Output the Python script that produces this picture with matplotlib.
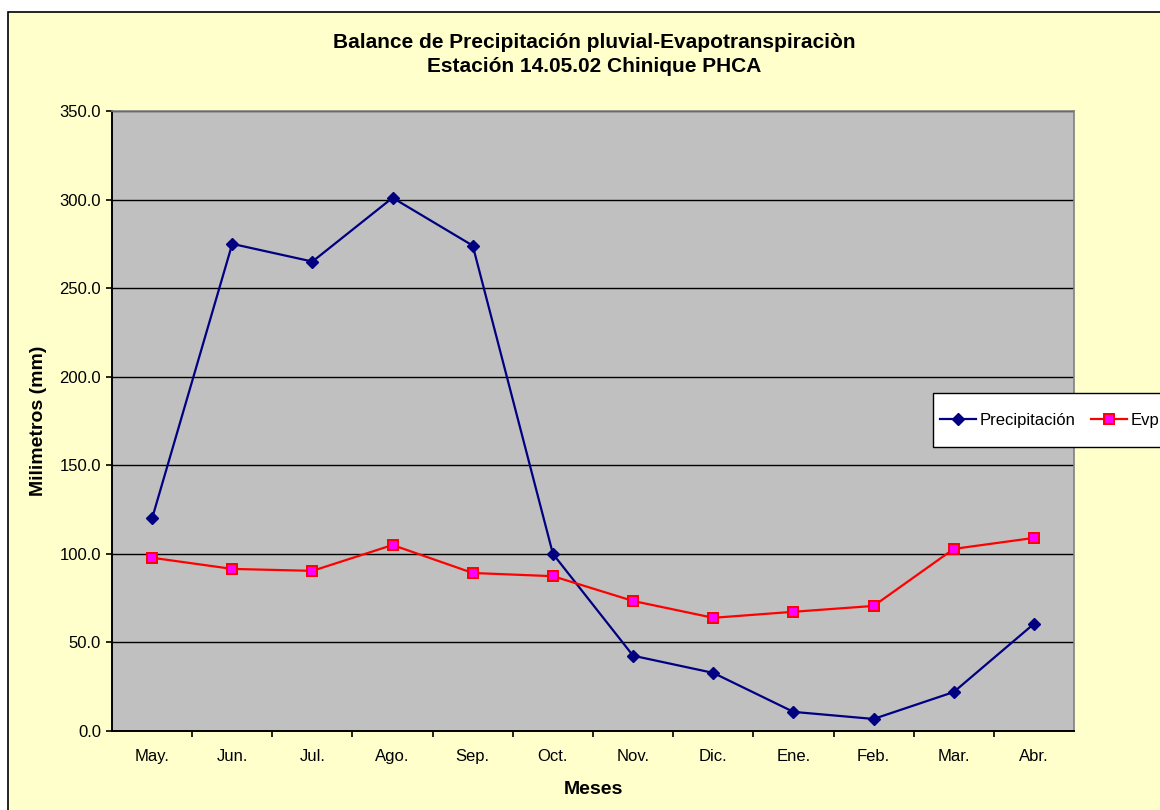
import matplotlib

matplotlib.use("Agg")
import matplotlib.pyplot as plt
from matplotlib.patches import Rectangle

plt.rcParams["font.family"] = ["Liberation Sans", "DejaVu Sans"]

meses = ["May.", "Jun.", "Jul.", "Ago.", "Sep.", "Oct.", "Nov.", "Dic.",
         "Ene.", "Feb.", "Mar.", "Abr."]
precipitacion = [120.0, 275.0, 265.0, 301.0, 274.0, 100.0, 42.5, 32.8,
                 10.8, 6.8, 22.0, 60.5]
evapotransp = [97.8, 91.5, 90.4, 105.0, 89.2, 87.4, 73.4, 63.9,
               67.3, 70.6, 102.8, 109.0]
y_ticks = [0, 50, 100, 150, 200, 250, 300, 350]

W, H = 1160, 810
fig = plt.figure(figsize=(W / 100, H / 100), dpi=100, facecolor="white")

# chart area background (runs past the right/bottom edge as in the source)
bg = Rectangle((8 / W, 1 - 830 / H), 1180 / W, 818 / H, transform=fig.transFigure,
               facecolor="#FFFFCC", edgecolor="black", linewidth=1.2, zorder=-10)
fig.patches.append(bg)

ax = fig.add_axes([112 / W, 1 - 731 / H, 962 / W, 620 / H])
ax.set_facecolor("#C0C0C0")
x = list(range(len(meses)))

l1, = ax.plot(x, precipitacion, color="#000080", lw=1.6, marker="D", ms=6.5,
              mfc="#000080", mec="#000080", zorder=3)
l2, = ax.plot(x, evapotransp, color="#FF0000", lw=1.6, marker="s", ms=7.5,
              mfc="#FF00FF", mec="#FF0000", mew=1.4, zorder=3)

ax.set_xlim(-0.5, len(meses) - 0.5)
ax.set_ylim(0, 350)
ax.set_yticks(y_ticks)
ax.set_yticklabels([f"{v:.1f}" for v in y_ticks], fontsize=12)
ax.set_xticks(x)
ax.set_xticklabels(meses, fontsize=12)
ax.set_xticks([i + 0.5 for i in x[:-1]], minor=True)
ax.tick_params(axis="x", which="major", length=0, pad=13)
ax.tick_params(axis="x", which="minor", length=4, width=1.2, direction="out")
ax.tick_params(axis="y", length=4, width=1.2, direction="out", pad=4)
ax.yaxis.grid(True, color="black", lw=1.0)
ax.set_axisbelow(True)

for side in ("top", "right"):
    ax.spines[side].set_color("#808080")
    ax.spines[side].set_linewidth(1.2)
for side in ("left", "bottom"):
    ax.spines[side].set_color("black")
    ax.spines[side].set_linewidth(1.4)

ax.set_xlabel("Meses", fontsize=14, fontweight="bold", labelpad=12)
ax.set_ylabel("Milimetros (mm)", fontsize=14, fontweight="bold", labelpad=9)

fig.text(594 / W, 1 - 43 / H, "Balance de Precipitación pluvial-Evapotranspiraciòn",
         ha="center", va="center", fontsize=15, fontweight="bold")
fig.text(594 / W, 1 - 67 / H, "Estación 14.05.02 Chinique PHCA",
         ha="center", va="center", fontsize=15, fontweight="bold")

# legend box drawn separately so it can be taller than the text row;
# it runs off the right edge, as in the source picture
leg_box = Rectangle((933 / W, 1 - 447 / H), 260 / W, 54 / H,
                    transform=fig.transFigure, facecolor="white",
                    edgecolor="black", linewidth=1.0, zorder=4)
fig.patches.append(leg_box)
leg = fig.legend([l1, l2], ["Precipitación", "Evp"], loc="center left",
                 bbox_to_anchor=(933 / W, 1 - 420 / H), ncol=2, fontsize=12,
                 frameon=False, borderaxespad=0, borderpad=0.4,
                 handlelength=2.2, handletextpad=0.2, columnspacing=0.9)
leg.set_zorder(5)

fig.savefig("out.png", dpi=100, facecolor=fig.get_facecolor())
